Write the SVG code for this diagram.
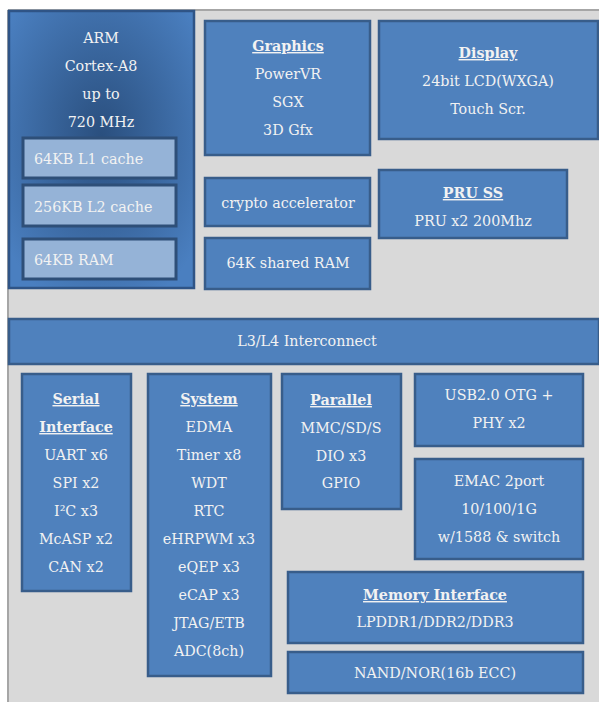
<svg xmlns="http://www.w3.org/2000/svg" width="599" height="702" viewBox="0 0 599 702">
<defs>
<radialGradient id="armg" cx="0.5" cy="0.45" r="0.65">
<stop offset="0" stop-color="#2a4f7e"/>
<stop offset="1" stop-color="#4a7fc0"/>
</radialGradient>
<style>
.box{fill:#4f81bd;stroke:#385d8a;stroke-width:2.5}
.sub{fill:#95b3d7;stroke:#2e4f78;stroke-width:3}
text{font-family:"DejaVu Serif","Liberation Serif",serif;font-size:14.3px;fill:#f2f2f2;text-anchor:middle}
.h{font-weight:bold;text-decoration:underline}
.l{text-anchor:start}
</style>
</defs>
<rect x="0" y="0" width="599" height="702" fill="#ffffff"/>
<rect x="8" y="10" width="591" height="692" fill="#d9d9d9"/>
<line x1="8" y1="10" x2="599" y2="10" stroke="#a6a6a6" stroke-width="2"/>
<line x1="8" y1="10" x2="8" y2="702" stroke="#a6a6a6" stroke-width="2"/>
<g id="connectors"></g>
<g id="arm">
<rect x="9" y="11" width="185" height="277" fill="url(#armg)" stroke="#2f5486" stroke-width="2.5"/>
<text x="101" y="43">ARM</text>
<text x="101" y="71">Cortex-A8</text>
<text x="101" y="99">up to</text>
<text x="101" y="127">720 MHz</text>
</g>
<g id="l1"><rect class="sub" x="23" y="138" width="153" height="40"/><text class="l" x="34" y="164">64KB L1 cache</text></g>
<g id="l2"><rect class="sub" x="23" y="185" width="153" height="41"/><text class="l" x="34" y="212">256KB L2 cache</text></g>
<g id="ram"><rect class="sub" x="23" y="239" width="153" height="40"/><text class="l" x="34" y="265">64KB RAM</text></g>
<g id="graphics"><rect class="box" x="205" y="21" width="165" height="134"/>
<text class="h" x="288" y="51">Graphics</text><text x="288" y="79">PowerVR</text><text x="288" y="107">SGX</text><text x="288" y="135">3D Gfx</text></g>
<g id="display"><rect class="box" x="379" y="21" width="219" height="118"/>
<text class="h" x="488" y="58">Display</text><text x="488" y="86">24bit LCD(WXGA)</text><text x="488" y="114">Touch Scr.</text></g>
<g id="crypto"><rect class="box" x="205" y="178" width="165" height="48"/><text x="288" y="208">crypto accelerator</text></g>
<g id="shared"><rect class="box" x="205" y="238" width="165" height="51"/><text x="288" y="268">64K shared RAM</text></g>
<g id="pru"><rect class="box" x="379" y="170" width="188" height="68"/>
<text class="h" x="473" y="198">PRU SS</text><text x="473" y="226">PRU x2 200Mhz</text></g>
<g id="interconnect"><rect class="box" x="9" y="319" width="590" height="45"/><text x="307" y="346">L3/L4 Interconnect</text></g>
<g id="serial"><rect class="box" x="22" y="374" width="109" height="217"/>
<text class="h" x="76" y="404">Serial </text><text class="h" x="76" y="432">Interface</text>
<text x="76" y="460">UART x6</text><text x="76" y="488">SPI x2</text><text x="76" y="516">I²C x3</text><text x="76" y="544">McASP x2</text><text x="76" y="572">CAN x2</text></g>
<g id="system"><rect class="box" x="148" y="374" width="123" height="302"/>
<text class="h" x="209" y="404">System</text><text x="209" y="432">EDMA</text><text x="209" y="460">Timer x8</text><text x="209" y="488">WDT</text><text x="209" y="516">RTC</text><text x="209" y="544">eHRPWM x3</text><text x="209" y="572">eQEP x3</text><text x="209" y="600">eCAP x3</text><text x="209" y="628">JTAG/ETB</text><text x="209" y="656">ADC(8ch)</text></g>
<g id="parallel"><rect class="box" x="282" y="374" width="119" height="135"/>
<text class="h" x="341" y="405">Parallel</text><text x="341" y="433">MMC/SD/S</text><text x="341" y="461">DIO x3</text><text x="341" y="488">GPIO</text></g>
<g id="usb"><rect class="box" x="415" y="374" width="168" height="72"/>
<text x="499" y="400">USB2.0 OTG +</text><text x="499" y="428">PHY x2</text></g>
<g id="emac"><rect class="box" x="415" y="459" width="168" height="100"/>
<text x="499" y="486">EMAC 2port</text><text x="499" y="514">10/100/1G</text><text x="499" y="542">w/1588 &amp; switch</text></g>
<g id="memory"><rect class="box" x="288" y="572" width="295" height="71"/>
<text class="h" x="435" y="600">Memory Interface</text><text x="435" y="627">LPDDR1/DDR2/DDR3</text></g>
<g id="nand"><rect class="box" x="288" y="652" width="295" height="41"/><text x="435" y="678">NAND/NOR(16b ECC)</text></g>
</svg>
